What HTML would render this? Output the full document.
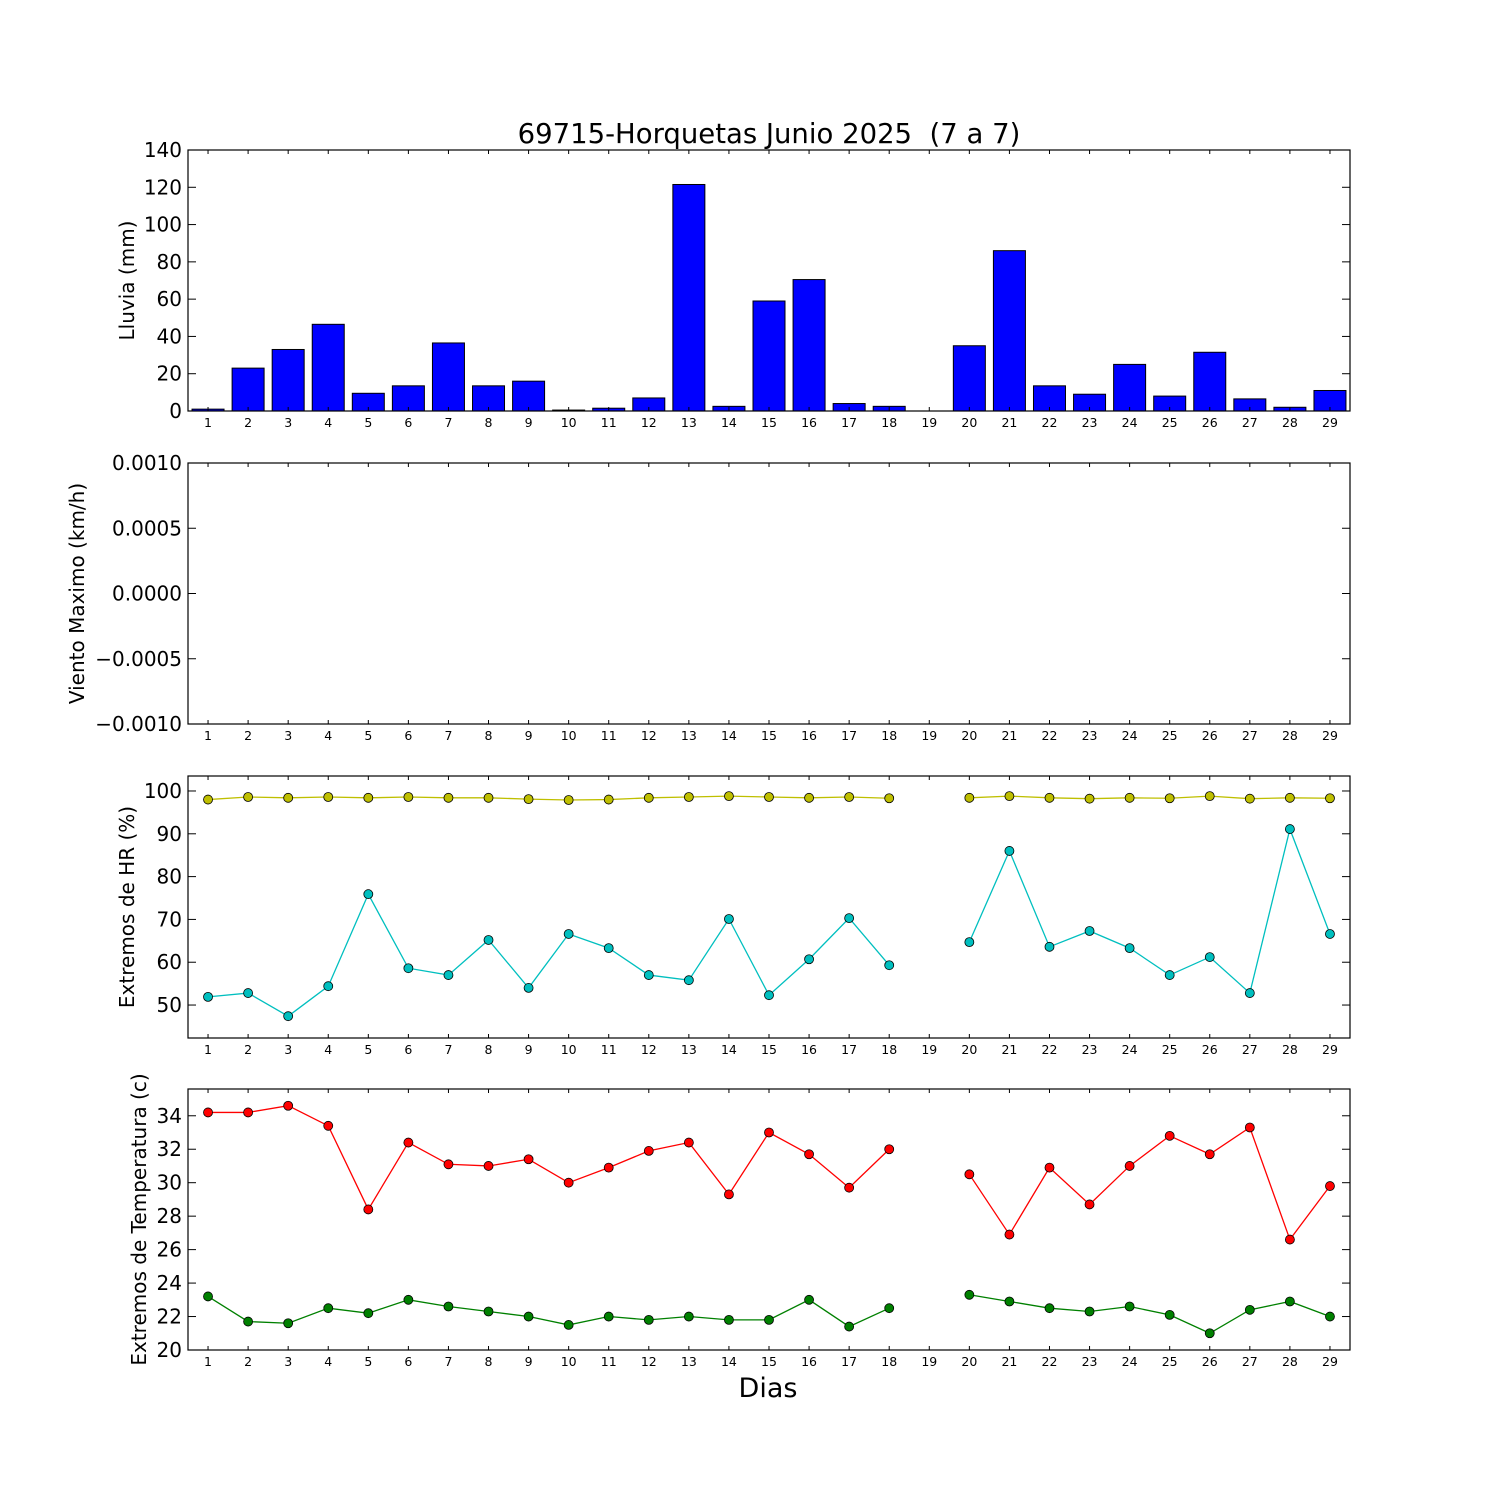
<!DOCTYPE html>
<html><head><meta charset="utf-8"><style>
html,body{margin:0;padding:0;background:#fff;}
svg{display:block;font-family:"DejaVu Sans","Liberation Sans",sans-serif;}
</style></head><body>
<svg id="chart" width="1500" height="1500" viewBox="0 0 1500 1500" xmlns="http://www.w3.org/2000/svg">
<rect width="1500" height="1500" fill="#fff"/>
<text x="769" y="143" font-size="27.5" text-anchor="middle" style="white-space:pre" xml:space="preserve">69715-Horquetas Junio 2025  (7 a 7)</text>
<text x="768" y="1397" font-size="27" text-anchor="middle">Dias</text>
</svg>
<script>
const days = [1,2,3,4,5,6,7,8,9,10,11,12,13,14,15,16,17,18,19,20,21,22,23,24,25,26,27,28,29];
const rain = [1,23,33,46.5,9.5,13.5,36.5,13.5,16,0.5,1.5,7,121.5,2.5,59,70.5,4,2.5,0,35,86,13.5,9,25,8,31.5,6.5,2,11];
const hrMax = [98.0,98.6,98.4,98.6,98.4,98.6,98.4,98.4,98.1,97.9,98.0,98.4,98.6,98.8,98.6,98.4,98.6,98.3,null,98.4,98.8,98.4,98.2,98.4,98.3,98.8,98.2,98.4,98.3];
const hrMin = [51.9,52.8,47.4,54.4,75.9,58.6,57.0,65.2,54.0,66.6,63.3,57.0,55.8,70.1,52.3,60.7,70.3,59.3,null,64.7,86.0,63.6,67.3,63.3,57.0,61.2,52.8,91.1,66.6];
const tMax = [34.2,34.2,34.6,33.4,28.4,32.4,31.1,31.0,31.4,30.0,30.9,31.9,32.4,29.3,33.0,31.7,29.7,32.0,null,30.5,26.9,30.9,28.7,31.0,32.8,31.7,33.3,26.6,29.8];
const tMin = [23.2,21.7,21.6,22.5,22.2,23.0,22.6,22.3,22.0,21.5,22.0,21.8,22.0,21.8,21.8,23.0,21.4,22.5,null,23.3,22.9,22.5,22.3,22.6,22.1,21.0,22.4,22.9,22.0];
const rainTicks = [0,20,40,60,80,100,120,140];
const windTicks = ["\u22120.0010","\u22120.0005","0.0000","0.0005","0.0010"];
const hrTicks = [50,60,70,80,90,100];
const tTicks = [20,22,24,26,28,30,32,34];

const svg = document.getElementById('chart');
const NS = 'http://www.w3.org/2000/svg';
function mk(tag, attrs, parent){const e=document.createElementNS(NS,tag);for(const k in attrs)e.setAttribute(k,attrs[k]);(parent||svg).appendChild(e);return e;}
const L=188,R=1350;
function xs(d){return L+(d-0.5)*(R-L)/29;}

function panel(name, top, bot, ymin, ymax, ticks, tickLabels, ylabel){
  const g=mk('g',{});
  
  
  const ys=v=>bot-(v-ymin)*(bot-top)/(ymax-ymin);
  const content=mk('g',{},g);
  days.forEach(d=>{
    const x=xs(d);
    mk('line',{x1:x,x2:x,y1:bot,y2:bot-4,stroke:'#000'},g);
    mk('line',{x1:x,x2:x,y1:top,y2:top+4,stroke:'#000'},g);
    const t=mk('text',{x:x,y:bot+16,'font-size':12.5,'text-anchor':'middle'},g);
    
    
    t.textContent=d;
  });
  ticks.forEach((v,i)=>{
    const y=ys(v);
    mk('line',{x1:L,x2:L+8,y1:y,y2:y,stroke:'#000'},g);
    mk('line',{x1:R,x2:R-8,y1:y,y2:y,stroke:'#000'},g);
    const t=mk('text',{x:L-6,y:y+7,'font-size':20,'text-anchor':'end'},g);
    
    
    t.textContent=tickLabels[i];
  });
  const cy=(top+bot)/2;
  const lab=mk('text',{x:0,y:0,'font-size':20,'text-anchor':'middle',transform:`translate(${name==='temp'?146:name==='wind'?84:134},${cy}) rotate(-90)`},g);
  
  
  lab.textContent=ylabel;
  const fr=mk('rect',{x:L,y:top,width:R-L,height:bot-top,fill:'none',stroke:'#000','stroke-width':1.2},g);
  
  
  return {g:content, ys};
}

function series(p, vals, color, name){
  let seg=[];
  const segs=[];
  vals.forEach((v,i)=>{ if(v===null){if(seg.length)segs.push(seg);seg=[];} else seg.push([xs(days[i]),p.ys(v)]); });
  if(seg.length)segs.push(seg);
  segs.forEach(s=>{
    const pl=mk('polyline',{points:s.map(q=>q.join(',')).join(' '),fill:'none',stroke:color,'stroke-width':1.3},p.g);
    
    
  });
  vals.forEach((v,i)=>{ if(v===null)return;
    const c=mk('circle',{cx:xs(days[i]),cy:p.ys(v),r:4.5,fill:color,stroke:'#000','stroke-width':0.8},p.g);
    
    
  });
}

const p1=panel('rain',150,411,0,140,rainTicks,rainTicks.map(String),'Lluvia (mm)');
rain.forEach((v,i)=>{
  const x=xs(days[i])-16, y=p1.ys(v);
  const b=mk('rect',{x:x,y:y,width:32,height:p1.ys(0)-y,fill:'#0000ff',stroke:'#000','stroke-width':1},p1.g);
  
  
});
panel('wind',463,724,-0.001,0.001,[-0.001,-0.0005,0,0.0005,0.001],windTicks,'Viento Maximo (km/h)');
const p3=panel('hr',776,1038,42.3,103.5,hrTicks,hrTicks.map(String),'Extremos de HR (%)');
series(p3,hrMax,'#bfbf00','hr-max');
series(p3,hrMin,'#00bfbf','hr-min');
const p4=panel('temp',1089,1350,20,35.6,tTicks,tTicks.map(String),'Extremos de Temperatura (c)');
series(p4,tMax,'#ff0000','temp-max');
series(p4,tMin,'#008000','temp-min');
</script>
</body></html>
